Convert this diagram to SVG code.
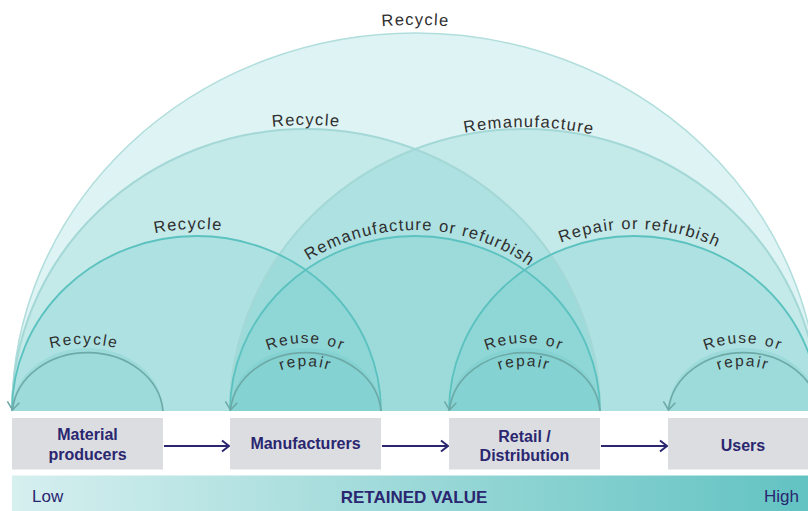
<svg xmlns="http://www.w3.org/2000/svg" width="808" height="511" viewBox="0 0 808 511">
  <style>
    .fl { fill: #5cc3c1; fill-opacity: 0.2; stroke: none; }
    .s-out { fill: none; stroke: #b0dedc; stroke-width: 1.5; }
    .s-mid { fill: none; stroke: #a3d8d6; stroke-width: 2; }
    .s-in { fill: none; stroke: #5bc2bf; stroke-width: 1.8; }
    .s-sm { fill: none; stroke: #6ca9a7; stroke-width: 1.6; marker-end: url(#ah); }
    .lbl { font-family: "Liberation Sans", Arial, sans-serif; font-size: 16.5px; fill: #2f2f2f; letter-spacing: 1.3px; }
    .lbs { font-family: "Liberation Sans", Arial, sans-serif; font-size: 15.5px; fill: #2f2f2f; letter-spacing: 1.8px; }
    .box { fill: #dcdde0; }
    .bt { font-family: "Liberation Sans", Arial, sans-serif; font-size: 16px; font-weight: bold; fill: #2a2670; text-anchor: middle; }
    .conn { fill: none; stroke: #2a2670; stroke-width: 2; marker-end: url(#na); }
    .scale { font-family: "Liberation Sans", Arial, sans-serif; font-size: 17px; fill: #2a2670; }
  </style>
  <defs>
    <marker id="ah" markerUnits="userSpaceOnUse" viewBox="-10 -10 20 20" markerWidth="20" markerHeight="20" refX="0" refY="0" orient="auto">
      <path d="M -8 -6 L 0 0 L -8 6" fill="none" stroke="#6ca9a7" stroke-width="1.6"/>
    </marker>
    <marker id="na" markerUnits="userSpaceOnUse" viewBox="-10 -10 20 20" markerWidth="20" markerHeight="20" refX="0" refY="0" orient="auto">
      <path d="M -7 -5.5 L 0 0 L -7 5.5" fill="none" stroke="#2a2670" stroke-width="2"/>
    </marker>
    <linearGradient id="vg" x1="0" y1="0" x2="1" y2="0">
      <stop offset="0" stop-color="#d6efef"/>
      <stop offset="1" stop-color="#62c3c2"/>
    </linearGradient>
    <path id="t0" d="M 4 411 A 411.5 386 0 0 1 827 411"/>
    <path id="t1" d="M 8 411 A 298 286 0 0 1 604 411"/>
    <path id="t2" d="M 226 411 A 298.5 284 0 0 1 823 411"/>
    <path id="t3" d="M 4.5 411 A 192 182 0 0 1 388.5 411"/>
    <path id="t4" d="M 224 411 A 191 181 0 0 1 606 411"/>
    <path id="t5" d="M 443 411 A 191 182 0 0 1 825 411"/>
    <path id="t6" d="M -46 474 A 130 130 0 0 1 214 474"/>
    <path id="r1" d="M 205.5 443 A 100 100 0 0 1 405.5 443"/>
    <path id="p1" d="M 230.5 441 A 75 75 0 0 1 380.5 441"/>
    <path id="r2" d="M 424 443 A 100 100 0 0 1 624 443"/>
    <path id="p2" d="M 449 441 A 75 75 0 0 1 599 441"/>
    <path id="r3" d="M 643 443 A 100 100 0 0 1 843 443"/>
    <path id="p3" d="M 668 441 A 75 75 0 0 1 818 441"/>
  </defs>

  <g id="loop-fills">
    <path class="fl" d="M 12 411 A 403.5 378 0 0 1 819 411 Z"/>
    <path class="fl" d="M 12 411 A 294 282 0 0 1 600 411 Z"/>
    <path class="fl" d="M 230 411 A 294.5 282 0 0 1 819 411 Z"/>
    <path class="fl" d="M 12 411 A 184.5 175 0 0 1 381 411 Z"/>
    <path class="fl" d="M 230 411 A 185 175 0 0 1 600 411 Z"/>
    <path class="fl" d="M 449 411 A 185 175 0 0 1 819 411 Z"/>
    <path class="fl" d="M 12 411 A 75.5 63 0 0 1 163 411 Z"/>
    <path class="fl" d="M 230 411 A 75.5 63 0 0 1 381 411 Z"/>
    <path class="fl" d="M 449 411 A 75.5 63 0 0 1 600 411 Z"/>
    <path class="fl" d="M 668 411 A 75.5 63 0 0 1 819 411 Z"/>
  </g>

  <g id="connectors">
    <path class="s-out" d="M 819 411 A 403.5 378 0 0 0 12 411"/>
    <path class="s-mid" d="M 600 411 A 294 282 0 0 0 12 411"/>
    <path class="s-mid" d="M 819 411 A 294.5 282 0 0 0 230 411"/>
    <path class="s-in" d="M 381 411 A 184.5 175 0 0 0 12 411"/>
    <path class="s-in" d="M 600 411 A 185 175 0 0 0 230 411"/>
    <path class="s-in" d="M 819 411 A 185 175 0 0 0 449 411"/>
    <path class="s-sm" d="M 163 411 A 75.5 63 0 0 0 12.5 410"/>
    <path class="s-sm" d="M 381 411 A 75.5 63 0 0 0 230.5 410"/>
    <path class="s-sm" d="M 600 411 A 75.5 63 0 0 0 449.5 410"/>
    <path class="s-sm" d="M 819 411 A 75.5 63 0 0 0 668.5 410"/>
    <path class="conn" d="M 164 446 H 229"/>
    <path class="conn" d="M 382 446 H 448"/>
    <path class="conn" d="M 601 446 H 667"/>
  </g>

  <g id="loop-labels">
    <text class="lbl" text-anchor="middle"><textPath href="#t0" startOffset="50%">Recycle</textPath></text>
    <text class="lbl" text-anchor="middle"><textPath href="#t1" startOffset="50%">Recycle</textPath></text>
    <text class="lbl" text-anchor="middle"><textPath href="#t2" startOffset="50.5%">Remanufacture</textPath></text>
    <text class="lbl" text-anchor="middle"><textPath href="#t3" startOffset="48.6%">Recycle</textPath></text>
    <text class="lbl" text-anchor="middle"><textPath href="#t4" startOffset="50.9%">Remanufacture or refurbish</textPath></text>
    <text class="lbl" text-anchor="middle"><textPath href="#t5" startOffset="51%">Repair or refurbish</textPath></text>
    <text class="lbs" text-anchor="middle"><textPath href="#t6" startOffset="50%">Recycle</textPath></text>
    <text class="lbs" text-anchor="middle"><textPath href="#r1" startOffset="50%">Reuse or</textPath></text>
    <text class="lbs" text-anchor="middle"><textPath href="#p1" startOffset="50%">repair</textPath></text>
    <text class="lbs" text-anchor="middle"><textPath href="#r2" startOffset="50%">Reuse or</textPath></text>
    <text class="lbs" text-anchor="middle"><textPath href="#p2" startOffset="50%">repair</textPath></text>
    <text class="lbs" text-anchor="middle"><textPath href="#r3" startOffset="50%">Reuse or</textPath></text>
    <text class="lbs" text-anchor="middle"><textPath href="#p3" startOffset="50%">repair</textPath></text>
  </g>

  <g id="node-material-producers">
    <rect class="box" x="12" y="418" width="151" height="51.5"/>
    <text class="bt" x="87.5" y="440">Material</text>
    <text class="bt" x="87.5" y="460">producers</text>
  </g>
  <g id="node-manufacturers">
    <rect class="box" x="230" y="418" width="151" height="51.5"/>
    <text class="bt" x="305.5" y="449">Manufacturers</text>
  </g>
  <g id="node-retail">
    <rect class="box" x="449" y="418" width="151" height="51.5"/>
    <text class="bt" x="524.5" y="441.5">Retail /</text>
    <text class="bt" x="524.5" y="461">Distribution</text>
  </g>
  <g id="node-users">
    <rect class="box" x="668" y="418" width="151" height="51.5"/>
    <text class="bt" x="743" y="451">Users</text>
  </g>

  <g id="value-scale">
    <rect x="12" y="475.5" width="796" height="35.5" fill="url(#vg)"/>
    <text class="scale" x="32" y="502">Low</text>
    <text class="scale" x="414" y="503" text-anchor="middle" font-weight="bold" font-size="18">RETAINED VALUE</text>
    <text class="scale" x="799" y="502" text-anchor="end">High</text>
  </g>
</svg>
